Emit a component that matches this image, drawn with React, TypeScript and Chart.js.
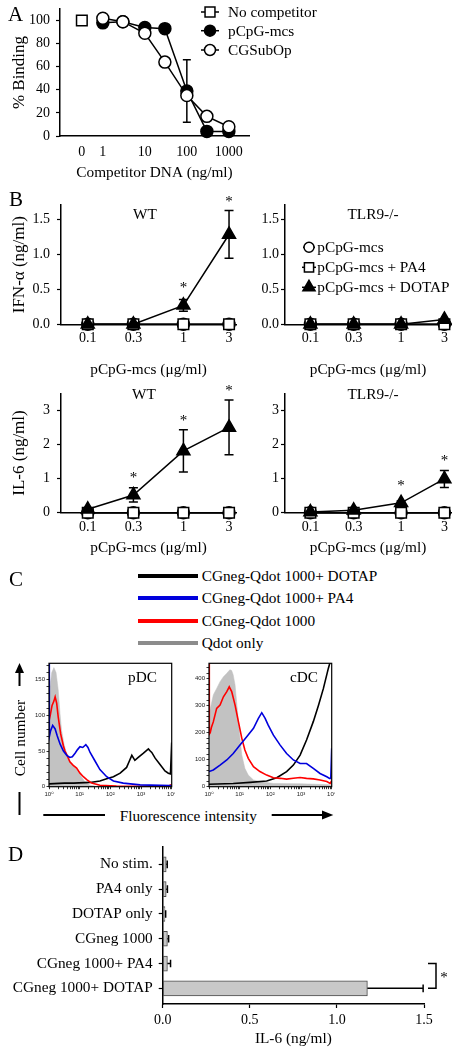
import React, { useEffect, useRef } from 'react';
import { Chart, registerables } from 'chart.js';

Chart.register(...registerables);

const SERIF = "'Liberation Serif', 'Times New Roman', serif";
const SANS = "'Liberation Sans', 'DejaVu Sans', Arial, sans-serif";
Chart.defaults.font.family = SERIF;
Chart.defaults.color = '#000';

const TXT = 15.3;
const TICK = 14;
const YT = 17;

// ---------------- Panel A data ----------------
const aSeries = ['No competitor', 'pCpG-mcs', 'CGSubOp'];
const aTickLabels = ['0', '1', '10', '100', '1000'];
const aZeroSlot = -0.5;
const aConc = [1, 3, 10, 30, 100, 300, 1000];
const aNoCompetitor = 100;
const aPcpg = [98, 99, 94, 93, 39, 4, 4];
const aPcpgErr = [0, 0, 0, 0, 27, 0, 0];
const aCgsub = [102, 99, 89, 64, 35, 17, 8];
const aYTicks = [0, 20, 40, 60, 80, 100];

// ---------------- Panel B data ----------------
const bSeries = ['pCpG-mcs', 'pCpG-mcs + PA4', 'pCpG-mcs + DOTAP'];
const bDoses = [0.1, 0.3, 1, 3];
const bDoseLabels = ['0.1', '0.3', '1', '3'];
const ifnTicks = [0, 0.5, 1, 1.5];
const ifnTickLabels = ['0.0', '0.5', '1.0', '1.5'];
const il6Ticks = [0, 1, 2, 3];
const il6TickLabels = ['0', '1', '2', '3'];

const ifnWtPcpg = [0, 0, 0, 0];
const ifnWtPa4 = [0, 0, 0, 0];
const ifnWtDotap = [0, 0, 0.27, 1.28];
const ifnWtDotapErr = [0, 0, 0.085, 0.34];
const ifnWtSig = [false, false, true, true];

const ifnKoPcpg = [0, 0, 0, 0];
const ifnKoPa4 = [0, 0, 0, 0];
const ifnKoDotap = [0, 0, 0, 0.07];
const ifnKoDotapErr = [0, 0, 0, 0];
const ifnKoSig = [false, false, false, false];

const il6WtPcpg = [0, 0, 0, 0];
const il6WtPa4 = [0, 0, 0, 0];
const il6WtDotap = [0.1, 0.52, 1.81, 2.5];
const il6WtDotapErr = [0.03, 0.21, 0.62, 0.8];
const il6WtSig = [false, true, true, true];

const il6KoPcpg = [0, 0, 0, 0];
const il6KoPa4 = [0, 0, 0, 0];
const il6KoDotap = [0.02, 0.07, 0.29, 0.99];
const il6KoDotapErr = [0, 0.02, 0.05, 0.25];
const il6KoSig = [false, false, true, true];

// ---------------- Panel C data (log10 intensity, cell count) ----------------
const cSeries = ['CGneg-Qdot 1000+ DOTAP', 'CGneg-Qdot 1000+ PA4', 'CGneg-Qdot 1000', 'Qdot only'];
const histXLabels = ['10⁰', '10¹', '10²', '10³', '10⁴'];
const pdcYMajor = [0, 50, 100, 150];
const cdcYMajor = [0, 100, 200, 300, 400];

const pdcQdotOnly = [[0, 112], [0.03, 140], [0.09, 160], [0.16, 167], [0.23, 160], [0.3, 136], [0.36, 102], [0.41, 79], [0.49, 60], [0.58, 45], [0.68, 36], [0.79, 29], [0.9, 24], [1.01, 17], [1.17, 7], [1.34, 2], [1.55, 0.5], [2.5, 0], [4, 0]];
const pdcCg1000 = [[0, 92], [0.04, 100], [0.1, 114], [0.16, 120], [0.2, 126], [0.25, 117], [0.3, 98], [0.38, 74], [0.47, 57], [0.52, 50], [0.58, 45], [0.68, 35], [0.79, 30], [0.9, 26], [1.01, 19], [1.12, 14], [1.23, 10], [1.39, 5], [1.66, 2], [2.2, 1], [3.0, 0.5], [3.9, 1], [4, 3]];
const pdcCgPa4 = [[0, 300], [0.01, 70], [0.05, 78], [0.12, 86], [0.2, 81], [0.27, 71], [0.36, 60], [0.47, 50], [0.58, 44], [0.68, 41], [0.76, 42], [0.85, 47], [0.93, 52], [1.01, 56], [1.1, 55], [1.2, 59], [1.27, 55], [1.34, 48], [1.5, 36], [1.66, 24], [1.88, 14], [2.1, 8], [2.42, 5], [2.97, 2.5], [3.95, 1.5], [4, 1]];
const pdcCgDotap = [[0, 4], [0.5, 5], [0.8, 5], [1.34, 6], [1.66, 8], [1.88, 11], [2.1, 14], [2.32, 19], [2.53, 27], [2.62, 36], [2.7, 44], [2.8, 37], [2.91, 41], [3.08, 47], [3.24, 53], [3.3, 50], [3.35, 48], [3.46, 40], [3.62, 31], [3.78, 22], [3.89, 19], [3.96, 18], [4, 62]];

const cdcQdotOnly = [[0, 270], [0.03, 282], [0.14, 340], [0.25, 364], [0.36, 389], [0.47, 407], [0.58, 420], [0.68, 433], [0.74, 430], [0.79, 414], [0.85, 377], [0.9, 315], [0.96, 240], [1.01, 179], [1.07, 117], [1.17, 68], [1.28, 43], [1.45, 25], [1.66, 19], [2.1, 12], [2.97, 11], [3.51, 9], [3.95, 7], [4, 0]];
const cdcCg1000 = [[0, 460], [0.01, 195], [0.04, 200], [0.08, 220], [0.14, 240], [0.25, 290], [0.36, 302], [0.47, 333], [0.58, 352], [0.66, 370], [0.74, 352], [0.85, 302], [0.96, 240], [1.07, 179], [1.17, 136], [1.28, 105], [1.45, 74], [1.66, 56], [1.88, 43], [2.1, 33], [2.32, 31], [2.53, 28], [2.75, 31], [2.97, 34], [3.18, 31], [3.4, 29], [3.62, 25], [3.84, 19], [3.95, 12], [4, 22]];
const cdcCgPa4 = [[0, 56], [0.14, 62], [0.36, 80], [0.58, 99], [0.79, 123], [1.01, 154], [1.23, 185], [1.45, 216], [1.61, 253], [1.72, 274], [1.83, 253], [1.93, 228], [2.1, 191], [2.32, 154], [2.53, 123], [2.75, 99], [2.97, 86], [3.18, 86], [3.4, 68], [3.62, 49], [3.84, 37], [3.93, 31], [3.97, 31], [4, 142]];
const cdcCgDotap = [[0, 9], [0.79, 12], [1.34, 16], [1.88, 21], [2.21, 33], [2.53, 56], [2.75, 80], [2.97, 117], [3.18, 173], [3.4, 241], [3.57, 302], [3.73, 364], [3.89, 438], [3.97, 470], [4, 470]];

// ---------------- Panel D data ----------------
const dCats = ['No stim.', 'PA4 only', 'DOTAP only', 'CGneg 1000', 'CGneg 1000+ PA4', 'CGneg 1000+ DOTAP'];
const dValues = [0.02, 0.02, 0.013, 0.027, 0.027, 1.175];
const dErr = [0.006, 0.007, 0.004, 0.007, 0.018, 0.32];
const dXTicks = [0, 0.5, 1, 1.5];
const dXLabels = ['0.0', '0.5', '1.0', '1.5'];

// ---------------- helpers ----------------
const log10 = Math.log10;

function fixSize(size: number) {
  return (scale: any) => {
    if (scale.isHorizontal()) scale.height = size;
    else scale.width = size;
    scale.paddingLeft = 0;
    scale.paddingRight = 0;
    scale.paddingTop = 0;
    scale.paddingBottom = 0;
  };
}

function linAxis(o: any) {
  return {
    type: 'linear',
    min: o.min,
    max: o.max,
    reverse: !!o.reverse,
    offset: false,
    afterBuildTicks: (scale: any) => {
      scale.ticks = o.ticks.map((v: number) => ({ value: v }));
    },
    afterFit: fixSize(o.size),
    border: { display: o.border !== false, color: '#000', width: 1.5 },
    grid: {
      display: true,
      offset: false,
      drawOnChartArea: false,
      drawTicks: o.tickLen > 0,
      tickLength: o.tickLen,
      color: '#000',
      tickColor: '#000',
      tickWidth: o.tickWidth ?? 1.2,
    },
    ticks: {
      autoSkip: false,
      maxRotation: 0,
      minRotation: 0,
      padding: o.pad,
      color: o.color ?? '#000',
      font: { size: o.font ?? TICK, family: o.family ?? SERIF },
      callback: (v: number, i: number) => o.label(v, i),
    },
    title: o.title
      ? { display: true, text: o.title, color: '#000', font: { size: o.titleSize ?? TXT, family: SERIF }, padding: o.titlePad }
      : { display: false },
  };
}

function drawMarker(ctx: CanvasRenderingContext2D, style: string, r: number, x: number, y: number) {
  ctx.beginPath();
  if (style === 'circle') {
    ctx.arc(x, y, r, 0, Math.PI * 2);
  } else if (style === 'rect') {
    const s = r * Math.SQRT1_2;
    ctx.rect(x - s, y - s, 2 * s, 2 * s);
  } else {
    let rad = 0;
    ctx.moveTo(x + Math.sin(rad) * r, y - Math.cos(rad) * r);
    rad += (2 * Math.PI) / 3;
    ctx.lineTo(x + Math.sin(rad) * r, y - Math.cos(rad) * r);
    rad += (2 * Math.PI) / 3;
    ctx.lineTo(x + Math.sin(rad) * r, y - Math.cos(rad) * r);
    ctx.closePath();
  }
  ctx.fill();
  ctx.stroke();
}

function drawErr(chart: any, opts: any) {
  const ctx = chart.ctx;
  const horizontal = chart.options.indexAxis === 'y';
  chart.data.datasets.forEach((ds: any, di: number) => {
    if (!ds.errPlus) return;
    const meta = chart.getDatasetMeta(di);
    const vScale = horizontal ? chart.scales.x : chart.scales.y;
    ctx.save();
    ctx.strokeStyle = '#000';
    ctx.lineWidth = opts.width || 1.5;
    ds.errPlus.forEach((e: number, i: number) => {
      if (!e) return;
      const el = meta.data[i];
      const p = meta.controller.getParsed(i);
      const v = horizontal ? p.x : p.y;
      const hi = vScale.getPixelForValue(v + e);
      const lo = vScale.getPixelForValue(horizontal ? v : v - e);
      const c = opts.cap || 4;
      ctx.beginPath();
      if (horizontal) {
        ctx.moveTo(lo, el.y);
        ctx.lineTo(hi, el.y);
        ctx.moveTo(hi, el.y - c);
        ctx.lineTo(hi, el.y + c);
      } else {
        ctx.moveTo(el.x, lo);
        ctx.lineTo(el.x, hi);
        ctx.moveTo(el.x - c, hi);
        ctx.lineTo(el.x + c, hi);
        ctx.moveTo(el.x - c, lo);
        ctx.lineTo(el.x + c, lo);
      }
      ctx.stroke();
    });
    ctx.restore();
  });
}

const errorBarPlugin = {
  id: 'errbars',
  beforeDatasetsDraw(chart: any, _a: any, opts: any) {
    if (!opts.after) drawErr(chart, opts);
  },
  afterDatasetsDraw(chart: any, _a: any, opts: any) {
    if (opts.after) drawErr(chart, opts);
  },
};

const sigPlugin = {
  id: 'sig',
  afterDatasetsDraw(chart: any, _a: any, opts: any) {
    const ctx = chart.ctx;
    chart.data.datasets.forEach((ds: any, di: number) => {
      if (!ds.sig) return;
      const meta = chart.getDatasetMeta(di);
      ds.sig.forEach((s: boolean, i: number) => {
        if (!s) return;
        const el = meta.data[i];
        const p = meta.controller.getParsed(i);
        const e = ds.errPlus ? ds.errPlus[i] : 0;
        const top = Math.min(chart.scales.y.getPixelForValue(p.y + e), el.y - 8);
        ctx.save();
        ctx.fillStyle = '#000';
        ctx.font = `15px ${SERIF}`;
        ctx.textAlign = 'center';
        ctx.textBaseline = 'middle';
        ctx.fillText('*', el.x, top - (opts.gap ?? 8));
        ctx.restore();
      });
    });
  },
};

const textPlugin = {
  id: 'texts',
  afterDraw(chart: any, _a: any, opts: any) {
    const ctx = chart.ctx;
    (opts.items || []).forEach((it: any) => {
      ctx.save();
      ctx.fillStyle = '#000';
      ctx.font = `${it.size || TXT}px ${SERIF}`;
      ctx.textAlign = it.align || 'center';
      ctx.textBaseline = 'middle';
      ctx.fillText(it.text, it.x, it.y);
      ctx.restore();
    });
  },
};

const markLegendPlugin = {
  id: 'markLegend',
  afterDraw(chart: any, _a: any, opts: any) {
    const ctx = chart.ctx;
    (opts.items || []).forEach((it: any) => {
      ctx.save();
      ctx.strokeStyle = '#000';
      ctx.lineWidth = 1.5;
      ctx.beginPath();
      ctx.moveTo(it.x - it.stub, it.y);
      ctx.lineTo(it.x + it.stub, it.y);
      ctx.stroke();
      ctx.fillStyle = it.fill;
      drawMarker(ctx, it.style, it.r, it.x, it.y);
      ctx.fillStyle = '#000';
      ctx.font = `${TXT}px ${SERIF}`;
      ctx.textAlign = 'left';
      ctx.textBaseline = 'middle';
      ctx.fillText(it.label, it.tx, it.y + 1);
      ctx.restore();
    });
  },
};

const framePlugin = {
  id: 'frame',
  afterDatasetsDraw(chart: any) {
    const { left, top, right, bottom } = chart.chartArea;
    const ctx = chart.ctx;
    ctx.save();
    ctx.strokeStyle = '#000';
    ctx.lineWidth = 1.2;
    ctx.strokeRect(left, top, right - left, bottom - top);
    ctx.restore();
  },
};

const bracketPlugin = {
  id: 'bracket',
  afterDraw(chart: any, _a: any, opts: any) {
    if (!opts.show) return;
    const ctx = chart.ctx;
    const y0 = chart.scales.y.getPixelForValue(opts.from);
    const y1 = chart.scales.y.getPixelForValue(opts.to);
    const x0 = chart.chartArea.right + 4;
    const x1 = x0 + 8;
    ctx.save();
    ctx.strokeStyle = '#000';
    ctx.lineWidth = 1.5;
    ctx.beginPath();
    ctx.moveTo(x0, y0);
    ctx.lineTo(x1, y0);
    ctx.lineTo(x1, y1);
    ctx.lineTo(x0, y1);
    ctx.stroke();
    ctx.fillStyle = '#000';
    ctx.font = `15px ${SERIF}`;
    ctx.textAlign = 'center';
    ctx.textBaseline = 'middle';
    ctx.fillText('*', x1 + 8, (y0 + y1) / 2 + 2);
    ctx.restore();
  },
};

const baseOptions = {
  animation: false,
  responsive: false,
  maintainAspectRatio: false,
  devicePixelRatio: 1,
  events: [],
};

const markerDs = (label: string, data: any[], style: string, r: number, fill: string, order: number) => ({
  label,
  data,
  order,
  clip: false,
  tension: 0,
  borderColor: '#000',
  borderWidth: 1.5,
  pointStyle: style,
  pointRadius: r,
  pointBackgroundColor: fill,
  pointBorderColor: '#000',
  pointBorderWidth: 1.5,
});

// ---------------- chart configs ----------------
function configA() {
  return {
    type: 'line',
    data: {
      datasets: [
        {
          ...markerDs(aSeries[1], aConc.map((c, i) => ({ x: log10(c), y: aPcpg[i] })), 'circle', 6, '#000', 2),
          errPlus: aPcpgErr,
        },
        markerDs(aSeries[2], aConc.map((c, i) => ({ x: log10(c), y: aCgsub[i] })), 'circle', 6, '#fff', 1),
        { ...markerDs(aSeries[0], [{ x: aZeroSlot, y: aNoCompetitor }], 'rect', 7.5, '#fff', 0), showLine: false },
      ],
    },
    options: {
      ...baseOptions,
      layout: { padding: { top: 5, right: 211, left: 0, bottom: 0 } },
      plugins: {
        legend: { display: false },
        tooltip: { enabled: false },
        errbars: { cap: 4, width: 1.5 },
        markLegend: {
          items: [
            { label: aSeries[0], style: 'rect', r: 7, fill: '#fff', x: 210, y: 12, tx: 228, stub: 9 },
            { label: aSeries[1], style: 'circle', r: 5.5, fill: '#000', x: 210, y: 30.7, tx: 228, stub: 9 },
            { label: aSeries[2], style: 'circle', r: 5.5, fill: '#fff', x: 210, y: 50, tx: 228, stub: 9 },
          ],
        },
      },
      scales: {
        x: linAxis({
          min: -1.02, max: 3.48,
          ticks: aTickLabels.map((l) => (l === '0' ? aZeroSlot : log10(Number(l)))),
          label: (_v: number, i: number) => aTickLabels[i],
          size: 49, tickLen: 0, pad: 8.3,
          title: 'Competitor DNA (ng/ml)', titlePad: { top: 0, bottom: 3.1 },
        }),
        y: linAxis({
          min: 0, max: 110, ticks: aYTicks,
          label: (v: number) => String(v),
          size: 60, tickLen: 4, pad: 6,
          title: '% Binding', titleSize: YT, titlePad: { top: 20 - YT * 0.6, bottom: 0 },
        }),
      },
    },
    plugins: [errorBarPlugin, markLegendPlugin],
  };
}

function configB(g: any) {
  const pts = (vals: number[]) => bDoses.map((d, i) => ({ x: log10(d), y: vals[i] }));
  return {
    type: 'line',
    data: {
      datasets: [
        { ...markerDs(bSeries[2], pts(g.dotap), 'triangle', 7.5, '#000', 0), errPlus: g.dotapErr, sig: g.sig },
        markerDs(bSeries[1], pts(g.pa4), 'rect', 7.5, '#fff', 1),
        markerDs(bSeries[0], pts(g.pcpg), 'circle', 6, '#fff', 2),
      ],
    },
    options: {
      ...baseOptions,
      layout: { padding: { top: g.padTop, right: g.padRight, left: 0, bottom: 0 } },
      plugins: {
        legend: { display: false },
        tooltip: { enabled: false },
        errbars: { cap: 4.5, width: 1.5 },
        sig: { gap: 9 },
        texts: { items: [{ text: g.title, x: g.titleX, y: g.titleY }] },
        markLegend: {
          items: g.legend
            ? [
                { label: bSeries[0], style: 'circle', r: 5, fill: '#fff', x: 79, y: 57.3, tx: 87.3, stub: 6 },
                { label: bSeries[1], style: 'rect', r: 6.5, fill: '#fff', x: 79, y: 77.3, tx: 87.3, stub: 7 },
                { label: bSeries[2], style: 'triangle', r: 7, fill: '#000', x: 79, y: 97.3, tx: 87.3, stub: 7 },
              ]
            : [],
        },
      },
      scales: {
        x: linAxis({
          min: -1.28, max: 0.55,
          ticks: bDoses.map(log10),
          label: (_v: number, i: number) => bDoseLabels[i],
          size: g.xAxisH, tickLen: 0, pad: g.xPad,
          title: 'pCpG-mcs (μg/ml)', titlePad: { top: 0, bottom: g.xTitlePB },
        }),
        y: linAxis({
          min: 0, max: g.yMax, ticks: g.yTicks,
          label: (_v: number, i: number) => g.yLabels[i],
          size: g.yAxisW, tickLen: 4, pad: g.yPad,
          title: g.yTitle, titleSize: YT, titlePad: { top: 20 - YT * 0.6, bottom: 0 },
        }),
      },
    },
    plugins: [errorBarPlugin, sigPlugin, textPlugin, markLegendPlugin],
  };
}

function configHist(g: any) {
  const minorX: number[] = [];
  for (let d = 0; d < 4; d++) {
    for (let m = 1; m < 10; m++) minorX.push(d + log10(m));
  }
  minorX.push(4);
  const yt: number[] = [];
  for (let v = 0; v <= g.yMax; v += g.yMinor) yt.push(v);
  const line = (data: number[][], color: string, order: number, fill = false) => ({
    data: data.map((p) => ({ x: p[0], y: p[1] })),
    borderColor: color,
    backgroundColor: fill ? '#c2c2c2' : color,
    borderWidth: fill ? 0.5 : 1.6,
    fill: fill ? 'origin' : false,
    pointRadius: 0,
    tension: 0,
    clip: 0,
    order,
  });
  return {
    type: 'line',
    data: {
      datasets: [
        line(g.qdot, '#c2c2c2', 3, true),
        line(g.dotap, '#000000', 2),
        line(g.cg1000, '#ff0000', 1),
        line(g.pa4, '#0000dd', 0),
      ],
    },
    options: {
      ...baseOptions,
      layout: { padding: { top: 8.3, right: 3.3, left: 0, bottom: 0 } },
      plugins: {
        legend: { display: false },
        tooltip: { enabled: false },
        texts: { items: [{ text: g.title, x: g.titleX, y: 23.3 }] },
      },
      scales: {
        x: linAxis({
          min: 0, max: 4, ticks: minorX,
          label: (v: number) => (Math.abs(v - Math.round(v)) < 1e-9 ? histXLabels[Math.round(v)] : ''),
          size: 18.3, tickLen: 2.5, tickWidth: 0.8, pad: 1.5, font: 6, family: SANS, color: '#222', border: false,
        }),
        y: linAxis({
          min: 0, max: g.yMax, ticks: yt,
          label: (v: number) => (g.yMajor.includes(v) ? String(v) : ''),
          size: 19, tickLen: 2.5, tickWidth: 0.8, pad: 1.5, font: 6, family: SANS, color: '#222', border: false,
        }),
      },
    },
    plugins: [framePlugin, textPlugin],
  };
}

function configD() {
  return {
    type: 'bar',
    data: {
      datasets: [
        {
          label: 'IL-6',
          data: dCats.map((_c, i) => ({ x: dValues[i], y: i })),
          backgroundColor: '#c8c8c8',
          borderColor: '#4a4a4a',
          borderWidth: 1,
          borderSkipped: false,
          barThickness: 15,
          errPlus: dErr,
        },
      ],
    },
    options: {
      ...baseOptions,
      indexAxis: 'y',
      layout: { padding: { top: 7, right: 36, left: 0, bottom: 0 } },
      plugins: {
        legend: { display: false },
        tooltip: { enabled: false },
        errbars: { cap: 3.8, width: 1.5, after: true },
        bracket: { show: true, from: 4, to: 5 },
      },
      scales: {
        x: linAxis({
          min: 0, max: 1.5, ticks: dXTicks,
          label: (_v: number, i: number) => dXLabels[i],
          size: 46, tickLen: 4, pad: 3.6,
          title: 'IL-6 (ng/ml)', titlePad: { top: 0, bottom: 1.8 },
        }),
        y: linAxis({
          min: -0.7, max: 5.63, reverse: true, ticks: dCats.map((_c, i) => i),
          label: (_v: number, i: number) => dCats[i],
          size: 162.7, tickLen: 4, pad: 6, font: TXT,
        }),
      },
    },
    plugins: [errorBarPlugin, bracketPlugin],
  };
}

// ---------------- components ----------------
function ChartCanvas({ x, y, w, h, config }: any) {
  const ref = useRef<HTMLCanvasElement>(null);
  useEffect(() => {
    const chart = new Chart(ref.current as HTMLCanvasElement, config() as any);
    return () => chart.destroy();
  }, []);
  return (
    <canvas
      ref={ref}
      width={w}
      height={h}
      style={{ position: 'absolute', left: x, top: y, width: w, height: h }}
    />
  );
}

function Txt({ x, y, text, size = TXT }: any) {
  return (
    <div
      style={{
        position: 'absolute',
        left: x,
        top: y - size * 0.6,
        fontFamily: SERIF,
        fontSize: size,
        lineHeight: `${size * 1.2}px`,
        whiteSpace: 'nowrap',
        color: '#000',
      }}
    >
      {text}
    </div>
  );
}

const cLegendColors = ['#000000', '#0000dd', '#ff0000', '#8c8c8c'];
const cLegendY = [575.7, 598.3, 621, 643.3];

export default function App() {
  return (
    <div
      style={{
        position: 'absolute',
        left: 0,
        top: 0,
        width: 460,
        height: 1050,
        background: '#fff',
        overflow: 'hidden',
      }}
    >
      <ChartCanvas x={0} y={0} w={460} h={185} config={configA} />

      <ChartCanvas
        x={0} y={190} w={245} h={190}
        config={() => configB({
          dotap: ifnWtDotap, dotapErr: ifnWtDotapErr, sig: ifnWtSig, pa4: ifnWtPa4, pcpg: ifnWtPcpg,
          yMax: 1.7, yTicks: ifnTicks, yLabels: ifnTickLabels, yTitle: 'IFN-α (ng/ml)',
          padTop: 15, padRight: 9, yAxisW: 61, yPad: 7, xAxisH: 55.7, xPad: 5.6, xTitlePB: 0.8,
          title: 'WT', titleX: 145, titleY: 25, legend: false,
        })}
      />
      <ChartCanvas
        x={230} y={190} w={230} h={190}
        config={() => configB({
          dotap: ifnKoDotap, dotapErr: ifnKoDotapErr, sig: ifnKoSig, pa4: ifnKoPa4, pcpg: ifnKoPcpg,
          yMax: 1.7, yTicks: ifnTicks, yLabels: ifnTickLabels, yTitle: '',
          padTop: 15, padRight: 0, yAxisW: 55, yPad: 2, xAxisH: 55.7, xPad: 5.6, xTitlePB: 0.8,
          title: 'TLR9-/-', titleX: 143, titleY: 25, legend: true,
        })}
      />
      <ChartCanvas
        x={0} y={380} w={245} h={180}
        config={() => configB({
          dotap: il6WtDotap, dotapErr: il6WtDotapErr, sig: il6WtSig, pa4: il6WtPa4, pcpg: il6WtPcpg,
          yMax: 3.5, yTicks: il6Ticks, yLabels: il6TickLabels, yTitle: 'IL-6 (ng/ml)',
          padTop: 13.3, padRight: 9, yAxisW: 61, yPad: 7, xAxisH: 47.3, xPad: 6.2, xTitlePB: 2.5,
          title: 'WT', titleX: 144, titleY: 15, legend: false,
        })}
      />
      <ChartCanvas
        x={230} y={380} w={230} h={180}
        config={() => configB({
          dotap: il6KoDotap, dotapErr: il6KoDotapErr, sig: il6KoSig, pa4: il6KoPa4, pcpg: il6KoPcpg,
          yMax: 3.5, yTicks: il6Ticks, yLabels: il6TickLabels, yTitle: '',
          padTop: 13.3, padRight: 0, yAxisW: 55, yPad: 2, xAxisH: 47.3, xPad: 6.2, xTitlePB: 2.5,
          title: 'TLR9-/-', titleX: 143, titleY: 15, legend: false,
        })}
      />

      <ChartCanvas
        x={30} y={655} w={145} h={150}
        config={() => configHist({
          qdot: pdcQdotOnly, cg1000: pdcCg1000, pa4: pdcCgPa4, dotap: pdcCgDotap,
          yMax: 173, yMajor: pdcYMajor, yMinor: 10, title: 'pDC', titleX: 112.5,
        })}
      />
      <ChartCanvas
        x={190} y={655} w={145} h={150}
        config={() => configHist({
          qdot: cdcQdotOnly, cg1000: cdcCg1000, pa4: cdcCgPa4, dotap: cdcCgDotap,
          yMax: 457, yMajor: cdcYMajor, yMinor: 20, title: 'cDC', titleX: 114,
        })}
      />

      <ChartCanvas x={0} y={840} w={460} h={210} config={configD} />

      {/* panel letters */}
      <Txt x={8} y={14.5} text="A" size={21} />
      <Txt x={9} y={200} text="B" size={21} />
      <Txt x={9} y={580} text="C" size={21} />
      <Txt x={8} y={855} text="D" size={21} />

      {/* panel C legend */}
      {cSeries.map((s, i) => (
        <React.Fragment key={s}>
          <div
            style={{
              position: 'absolute',
              left: 138.3,
              top: cLegendY[i] - 2,
              width: 60,
              height: 4,
              background: cLegendColors[i],
            }}
          />
          <Txt x={201.7} y={cLegendY[i]} text={s} />
        </React.Fragment>
      ))}

      {/* panel C axis captions */}
      <div
        style={{
          position: 'absolute',
          left: 19.5 - 50,
          top: 738 - 10,
          width: 100,
          height: 20,
          lineHeight: '20px',
          textAlign: 'center',
          fontFamily: SERIF,
          fontSize: 15.4,
          transform: 'rotate(-90deg)',
          whiteSpace: 'nowrap',
        }}
      >
        Cell number
      </div>
      <div
        style={{
          position: 'absolute',
          left: 188.3 - 80,
          top: 815 - 9.5,
          width: 160,
          lineHeight: '19px',
          textAlign: 'center',
          fontFamily: SERIF,
          fontSize: 15.3,
          whiteSpace: 'nowrap',
        }}
      >
        Fluorescence intensity
      </div>
      <svg
        width={460}
        height={1050}
        style={{ position: 'absolute', left: 0, top: 0, pointerEvents: 'none' }}
      >
        <line x1={19.5} y1={672} x2={19.5} y2={686} stroke="#000" strokeWidth={2} />
        <polygon points="19.5,663 15,673 24,673" fill="#000" />
        <line x1={19.5} y1={792} x2={19.5} y2={815} stroke="#000" strokeWidth={2} />
        <line x1={43.3} y1={815} x2={105} y2={815} stroke="#000" strokeWidth={2} />
        <line x1={271.7} y1={815} x2={323} y2={815} stroke="#000" strokeWidth={2} />
        <polygon points="333.3,815 322,810.5 322,819.5" fill="#000" />
      </svg>
    </div>
  );
}
